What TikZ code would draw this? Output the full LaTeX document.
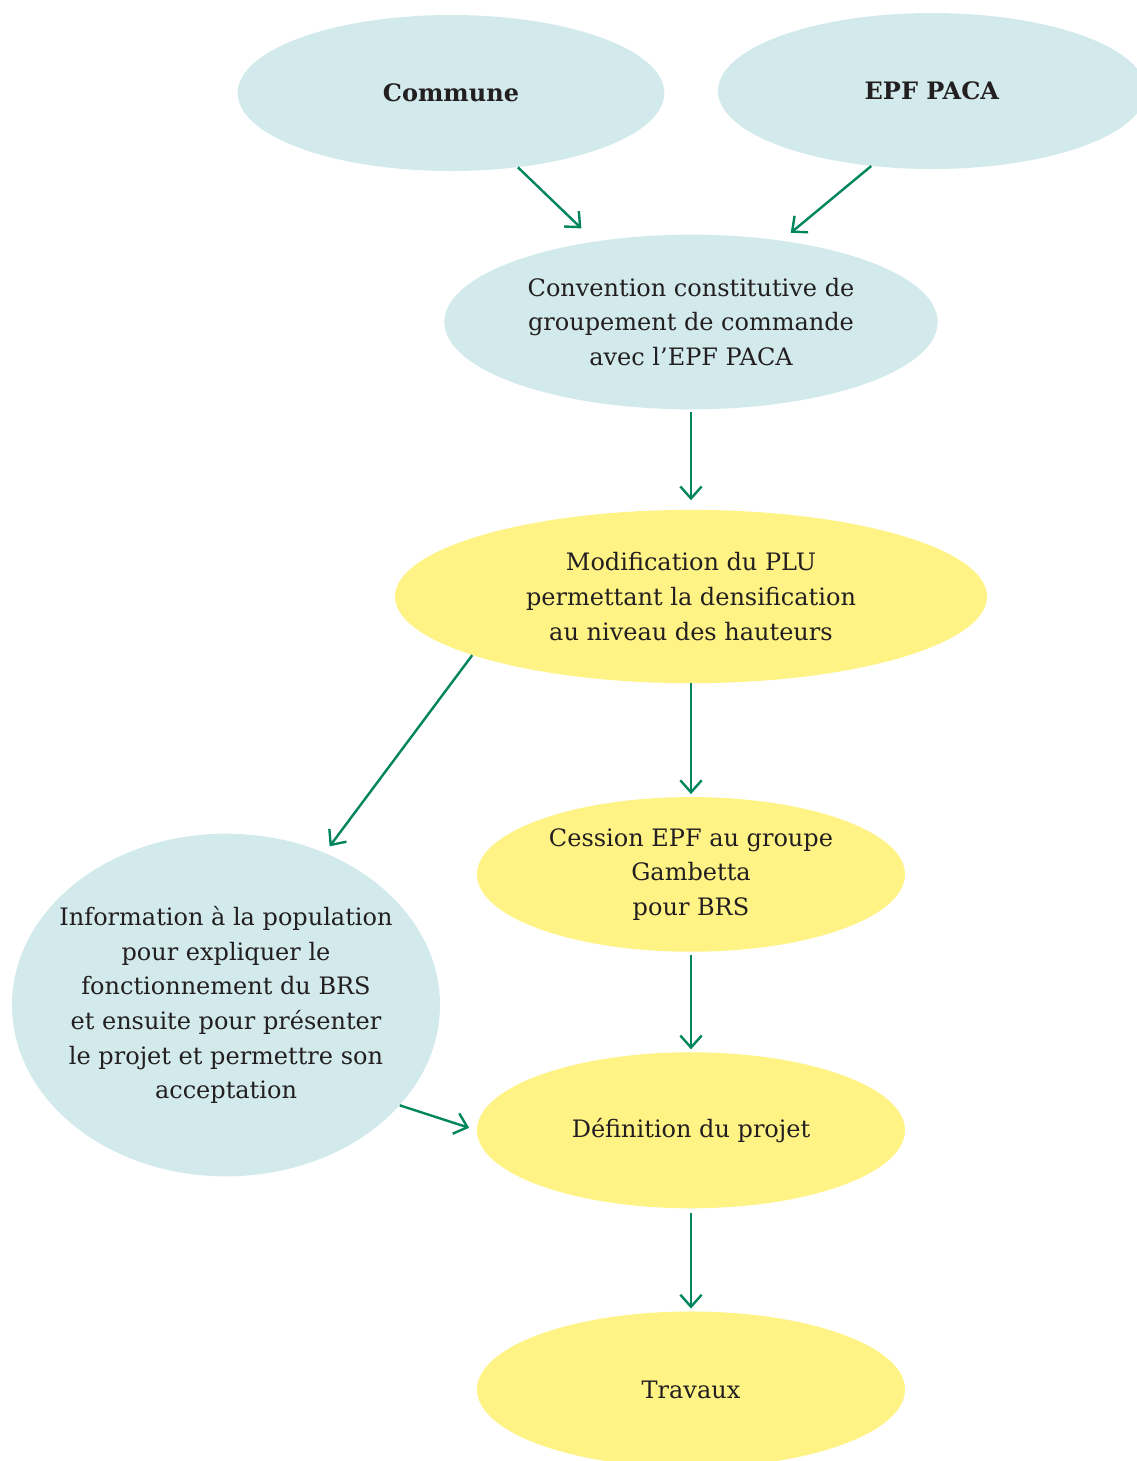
\documentclass[tikz,border=0pt]{standalone}
\usepackage{fontspec}
\setmainfont{DejaVu Serif}
\usetikzlibrary{positioning,shapes.geometric,arrows.meta}
\definecolor{lagoon}{HTML}{D2EAEC}
\definecolor{sun}{HTML}{FFF385}
\definecolor{pine}{HTML}{00855D}
\definecolor{ink}{HTML}{231F20}
\tikzset{
  stage/.style={ellipse,align=center,inner sep=0pt,text=ink,
    font=\fontsize{18}{26}\selectfont},
  partner/.style={stage,fill=lagoon},
  works/.style={stage,fill=sun},
  fl/.style={-{Straight Barb[length=9pt,width=16pt]},draw=pine,line width=1.8pt},
}

\begin{document}
\begin{tikzpicture}[x=0.75pt,y=-0.75pt]
  \useasboundingbox (0,0) rectangle (1137,1461);
  \node[partner,minimum width=320pt,minimum height=117pt] (com) at (451,93) {\textbf{Commune}};
  \node[partner,minimum width=321pt,minimum height=117pt] (epf) at (932,91) {\textbf{EPF PACA}};
  \node[partner,minimum width=370pt,minimum height=131pt] (conv) at (691,322) {Convention constitutive de\\groupement de commande\\avec l’EPF PACA};
  \node[works,minimum width=444pt,minimum height=130pt,below=75pt of conv] (plu) {Modification du PLU\\permettant la densification\\au niveau des hauteurs};
  \node[works,minimum width=321pt,minimum height=116pt,below=85pt of plu] (cess) {Cession EPF au groupe\\Gambetta\\pour BRS};
  \node[works,minimum width=321pt,minimum height=117pt,below=75pt of cess] (def) {Définition du projet};
  \node[works,minimum width=321pt,minimum height=117pt,below=77pt of def] (trav) {Travaux};
  \node[partner,minimum width=321pt,minimum height=257pt,inner xsep=-15pt] (info) at (226,1005) {Information à la population\\pour expliquer le\\fonctionnement du BRS\\et ensuite pour présenter\\le projet et permettre son\\acceptation};
  % liaisons
  \draw[fl,shorten >=14pt] (com.-48) -- (conv.140);
  \draw[fl,shorten >=9pt] (epf.231) -- (conv.42);
  \draw[fl,shorten <=2pt,shorten >=7pt] (conv.south) -- (plu.north);
  \draw[fl,shorten >=2pt] (plu.south) -- (cess.north);
  \draw[fl,shorten <=2pt,shorten >=2pt] (cess.south) -- (def.north);
  \draw[fl,shorten <=3pt,shorten >=2pt] (def.south) -- (trav.north);
  \draw[fl,shorten >=6pt] (plu.195) -- (info.57);
  \draw[fl,shorten >=6pt] (info.-30) -- (def.180);
\end{tikzpicture}
\end{document}
